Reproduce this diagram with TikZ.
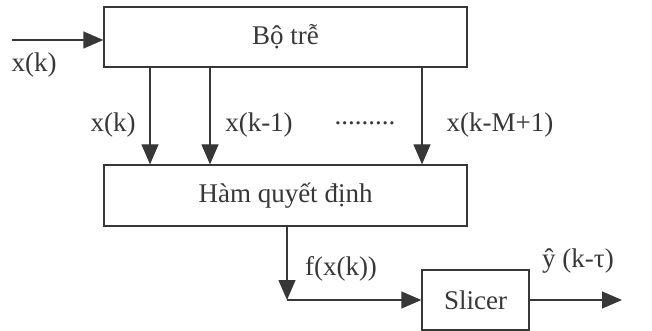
\documentclass[tikz,border=0pt]{standalone}
\usepackage{fontspec}
\setmainfont{Liberation Serif}
\usetikzlibrary{arrows.meta,positioning}
\definecolor{inkgray}{RGB}{55,55,55}

\begin{document}
\begin{tikzpicture}[x=1pt, y=-1pt,
    blockbox/.style={draw=inkgray, line width=1.3pt, font=\fontsize{27}{31}\selectfont, text=inkgray, inner sep=0pt},
    sig/.style={draw=inkgray, line width=1.3pt, -{Triangle[length=20pt, width=17pt]}},
    lbl/.style={font=\fontsize{27}{31}\selectfont, text=inkgray, inner sep=0pt}
  ]
  \useasboundingbox (0,0) rectangle (652,331);

  % Blocks
  \node[blockbox, minimum width=363pt, minimum height=60pt] (delay) at (285.5,37) {Bộ trễ};
  \node[blockbox, minimum width=363pt, minimum height=61pt] (decide) at (285.5,195.5) {Hàm quyết định};
  \node[blockbox, minimum width=107pt, minimum height=60pt] (slicer) at (475.5,300) {Slicer};

  % Input
  \coordinate (in) at (12,40);
  \draw[sig] (in) -- (in -| delay.west);
  \node[lbl] (inlbl) at (34,65) {x(k)};

  % Taps
  \coordinate (tapA) at (150,0);
  \coordinate (tapB) at (210,0);
  \coordinate (tapC) at (422,0);
  \draw[sig] (delay.south -| tapA) -- (decide.north -| tapA);
  \draw[sig] (delay.south -| tapB) -- (decide.north -| tapB);
  \draw[sig] (delay.south -| tapC) -- (decide.north -| tapC);
  \node[lbl] (tapAlbl) at (113,125) {x(k)};
  \node[lbl] (tapBlbl) at (259,125) {x(k-1)};
  \node[lbl] (dots) at (365,123) {.........};
  \node[lbl] (tapClbl) at (500,125) {x(k-M+1)};

  % Output path
  \coordinate (corner) at (287,300);
  \draw[sig] (decide.south -| corner) -- (corner);
  \draw[sig] (corner) -- (slicer.west);
  \coordinate (out) at (622,300);
  \draw[sig] (slicer.east) -- (out);
  \node[lbl] (flbl) at (341,269) {f(x(k))};
  \node[lbl] (ylbl) at (578,261) {ŷ (k-τ)};
\end{tikzpicture}
\end{document}
